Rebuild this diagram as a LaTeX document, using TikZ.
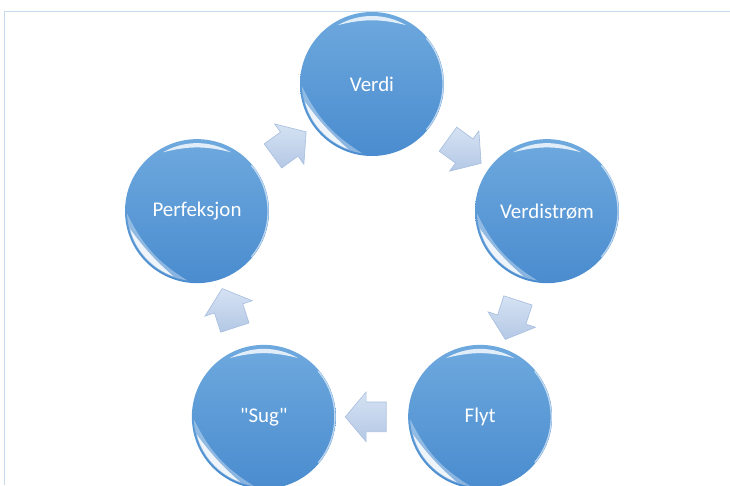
\documentclass[tikz,border=0pt]{standalone}
\usepackage{fontspec}
\setmainfont{Carlito}
\usetikzlibrary{calc, shapes.arrows}
\usepackage{xcolor}
\definecolor{balltop}{HTML}{6EA9DE}
\definecolor{ballbot}{HTML}{4A8CCF}
\definecolor{arrowtop}{HTML}{D5E2F3}
\definecolor{arrowbot}{HTML}{B4C8E5}
\definecolor{arrowedge}{HTML}{A9C0E0}
\definecolor{frameline}{HTML}{C6DAEF}

\begin{document}
\begin{tikzpicture}[x=0.75pt, y=0.75pt,
	ball/.style={circle, minimum size=108pt, inner sep=0pt, top color=balltop, bottom color=ballbot,
		text=white, font=\fontsize{15.7}{19}\selectfont,
		path picture={
			\coordinate (c) at (path picture bounding box.center);
			\fill[white, opacity=.35] ($(c)+(182:52.5pt)$) arc[start angle=182, end angle=262, radius=52.5pt]
				to[bend left=16] ($(c)+(182:52.5pt)$);
			\fill[white, opacity=.85] ($(c)+(195:52pt)$) arc[start angle=195, end angle=250, radius=52pt]
				to[bend left=6] ($(c)+(195:52pt)$);
			\fill[white, opacity=.8] ($(c)+(60:51pt)$) arc[start angle=60, end angle=120, radius=51pt]
				to[bend left=14] ($(c)+(60:51pt)$);
			\draw[white, opacity=.6, line width=1pt] ($(c)+(-40:53.3pt)$) arc[start angle=-40, end angle=40, radius=53.3pt];
		}},
	flow/.style={single arrow, draw=arrowedge, line width=.5pt, top color=arrowtop, bottom color=arrowbot,
		inner xsep=0pt, inner ysep=10.9pt, minimum height=30.75pt,
		single arrow head extend=7.5pt, single arrow tip angle=100}]
	\useasboundingbox (0,0) rectangle (730,485);
	\draw[frameline, line width=1.1pt] (730,473.5) -- (4.5,473.5) -- (4.5,0);
	\coordinate (mid) at (372,217);
	\node[ball] (verdi) at ($(mid)+(90:184)$) {Verdi};
	\node[ball] (strom) at ($(mid)+(18:184)$) {Verdistrøm};
	\node[ball] (flyt) at ($(mid)+(-54:184)$) {Flyt};
	\node[ball] (sug) at ($(mid)+(-126:184)$) {\textquotedbl Sug\textquotedbl};
	\node[ball] (perf) at ($(mid)+(162:184)$) {Perfeksjon};
	% piler mellom sirklene
	\node[flow, rotate=-36] (p1) at ($(verdi)!0.5!(strom)$) {};
	\node[flow, rotate=-108] (p2) at ($(strom)!0.5!(flyt)$) {};
	\node[flow, rotate=180] (p3) at ($(flyt)!0.5!(sug)$) {};
	\node[flow, rotate=108] (p4) at ($(sug)!0.5!(perf)$) {};
	\node[flow, rotate=36] (p5) at ($(perf)!0.5!(verdi)$) {};
\end{tikzpicture}
\end{document}
